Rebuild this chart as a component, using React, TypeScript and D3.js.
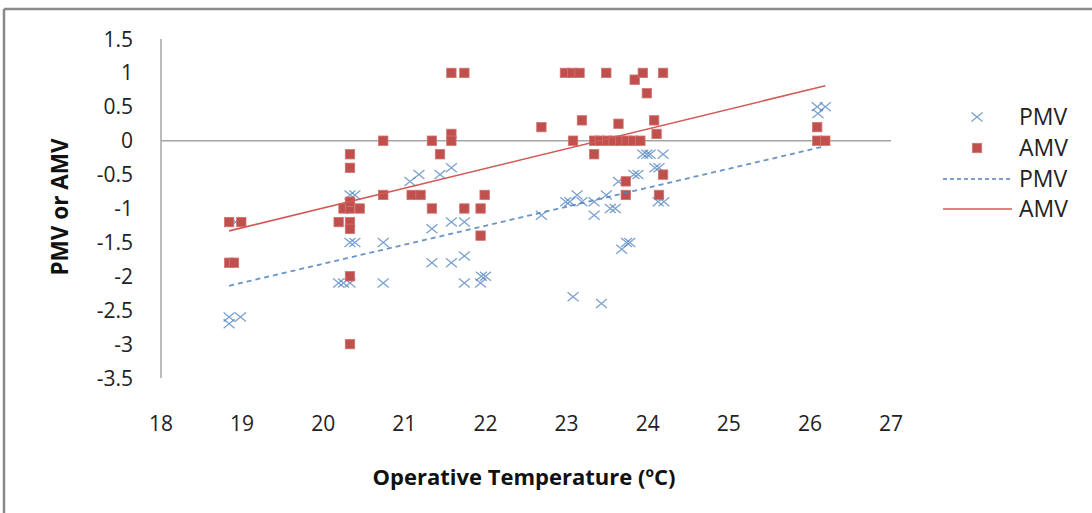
import React from "react";
import * as d3 from "d3";

const xTicks = [18, 19, 20, 21, 22, 23, 24, 25, 26, 27];
const yTicks = [1.5, 1, 0.5, 0, -0.5, -1, -1.5, -2, -2.5, -3, -3.5];

const pmvX = [18.84, 18.84, 18.98, 18.92, 20.19, 20.25, 20.33, 20.74, 20.33, 20.39, 20.74, 20.33, 20.39, 21.07, 21.18, 21.44, 21.58, 21.34, 21.58, 21.74, 21.34, 21.58, 21.74, 21.74, 21.94, 21.95, 22.0, 22.69, 22.99, 23.04, 23.13, 23.19, 23.34, 23.34, 23.49, 23.54, 23.6, 23.08, 23.43, 23.68, 23.74, 23.78, 23.64, 23.83, 23.88, 23.94, 23.99, 24.09, 24.13, 24.03, 24.19, 24.14, 24.2, 26.09, 26.19, 26.1];
const pmvY = [-2.6, -2.7, -2.6, -1.2, -2.1, -2.1, -2.1, -2.1, -1.5, -1.5, -1.5, -0.8, -0.8, -0.6, -0.5, -0.5, -0.4, -1.3, -1.2, -1.2, -1.8, -1.8, -1.7, -2.1, -2.1, -2.0, -2.0, -1.1, -0.9, -0.9, -0.8, -0.9, -0.9, -1.1, -0.8, -1.0, -1.0, -2.3, -2.4, -1.6, -1.5, -1.5, -0.6, -0.5, -0.5, -0.2, -0.2, -0.4, -0.9, -0.2, -0.2, -0.4, -0.9, 0.5, 0.5, 0.4];

const amvX = [18.84, 18.99, 18.84, 18.9, 20.19, 20.33, 20.33, 20.25, 20.33, 20.45, 20.33, 20.33, 20.33, 20.74, 20.74, 20.33, 20.33, 21.09, 21.2, 21.34, 21.34, 21.44, 21.58, 21.58, 21.58, 21.74, 21.74, 21.94, 21.99, 21.94, 22.69, 22.98, 23.07, 23.16, 23.08, 23.19, 23.34, 23.41, 23.5, 23.58, 23.66, 23.74, 23.82, 23.91, 23.34, 23.49, 23.64, 23.84, 23.94, 23.99, 24.08, 24.11, 24.19, 23.73, 23.73, 24.14, 24.19, 26.09, 26.09, 26.19];
const amvY = [-1.2, -1.2, -1.8, -1.8, -1.2, -1.2, -1.3, -1.0, -1.0, -1.0, -0.9, -0.2, -0.4, 0, -0.8, -2.0, -3.0, -0.8, -0.8, 0, -1.0, -0.2, 1.0, 0.1, 0, 1.0, -1.0, -1.0, -0.8, -1.4, 0.2, 1.0, 1.0, 1.0, 0, 0.3, 0, 0, 0, 0, 0, 0, 0, 0, -0.2, 1.0, 0.25, 0.9, 1.0, 0.7, 0.3, 0.1, 1.0, -0.6, -0.8, -0.8, -0.5, 0.2, 0, 0];

const pmvTrendX = [18.84, 26.19];
const pmvTrendY = [-2.14, -0.08];
const amvTrendX = [18.84, 26.19];
const amvTrendY = [-1.33, 0.81];

const legendItems = ["PMV", "AMV", "PMV", "AMV"];

const W = 1092;
const H = 513;
const FONT = "'Open Sans', 'Liberation Sans', sans-serif";
const BLUE = "#4f81bd";
const RED = "#c0504d";

export default function App() {
  const x = d3.scaleLinear().domain([18, 27]).range([161, 891]);
  const y = d3.scaleLinear().domain([-3.5, 1.5]).range([378, 39]);
  const line = d3
    .line<[number, number]>()
    .x((d) => x(d[0]))
    .y((d) => y(d[1]));
  const pmvTrend: [number, number][] = pmvTrendX.map((v, i) => [v, pmvTrendY[i]]);
  const amvTrend: [number, number][] = amvTrendX.map((v, i) => [v, amvTrendY[i]]);

  const xMark = (cx: number, cy: number, key: string | number) => (
    <path
      key={key}
      d={`M${cx - 5.5},${cy - 4.5}L${cx + 5.5},${cy + 4.5}M${cx - 5.5},${cy + 4.5}L${cx + 5.5},${cy - 4.5}`}
      stroke={BLUE}
      strokeOpacity={0.75}
      strokeWidth={1.3}
      fill="none"
    />
  );
  const sq = (cx: number, cy: number, key: string | number) => (
    <rect
      key={key}
      x={cx - 4.7}
      y={cy - 4.7}
      width={9.4}
      height={9.4}
      fill={RED}
      stroke="#d07572"
      strokeWidth={0.8}
    />
  );

  const legY = [117, 148, 179, 209];

  return (
    <svg
      width={W}
      height={H}
      style={{ position: "absolute", left: 0, top: 0, background: "#fff" }}
      fontFamily={FONT}
    >
      <rect x={0} y={0} width={W} height={H} fill="#fff" />
      {/* chart frame */}
      <line x1={4} y1={9} x2={W} y2={9} stroke="#8a8a8a" strokeWidth={2.5} />
      <line x1={4} y1={9} x2={4} y2={H} stroke="#8a8a8a" strokeWidth={2.5} />

      {/* axes */}
      <line x1={x(18)} y1={y(1.5)} x2={x(18)} y2={y(-3.5)} stroke="#a6a6a6" strokeWidth={1.5} />
      <line x1={x(18)} y1={y(0)} x2={x(27)} y2={y(0)} stroke="#a6a6a6" strokeWidth={1.5} />

      {yTicks.map((t) => (
        <text
          key={t}
          x={133}
          y={y(t)}
          dy="0.36em"
          textAnchor="end"
          fontSize={21}
          fill="#222"
        >
          {String(t)}
        </text>
      ))}
      {xTicks.map((t) => (
        <text key={t} x={x(t)} y={431} textAnchor="middle" fontSize={21} fill="#222">
          {String(t)}
        </text>
      ))}

      <text
        x={524}
        y={485}
        textAnchor="middle"
        fontSize={22}
        fontWeight="bold"
        fill="#111"
      >
        Operative Temperature (ºC)
      </text>
      <text
        transform={`translate(68,207) rotate(-90)`}
        textAnchor="middle"
        fontSize={22.5}
        fontWeight="bold"
        fill="#111"
      >
        PMV or AMV
      </text>

      {/* points */}
      {pmvX.map((v, i) => xMark(x(v), y(pmvY[i]), "p" + i))}
      {amvX.map((v, i) => sq(x(v), y(amvY[i]), "a" + i))}

      {/* trend lines */}
      <path d={line(pmvTrend) || ""} stroke={BLUE} strokeWidth={1.8} strokeDasharray="5,4" fill="none" opacity={0.85} />
      <path d={line(amvTrend) || ""} stroke="#d25a56" strokeWidth={1.6} fill="none" />

      {/* legend */}
      {xMark(977, legY[0], "lx")}
      {sq(977, legY[1], "ls")}
      <line x1={943} x2={1012} y1={legY[2]} y2={legY[2]} stroke={BLUE} strokeWidth={1.6} strokeDasharray="4,3" />
      <line x1={943} x2={1012} y1={legY[3]} y2={legY[3]} stroke="#d25a56" strokeWidth={1.6} />
      {legendItems.map((s, i) => (
        <text key={i} x={1019} y={legY[i]} dy="0.36em" fontSize={23} fill="#222">
          {s}
        </text>
      ))}
    </svg>
  );
}
